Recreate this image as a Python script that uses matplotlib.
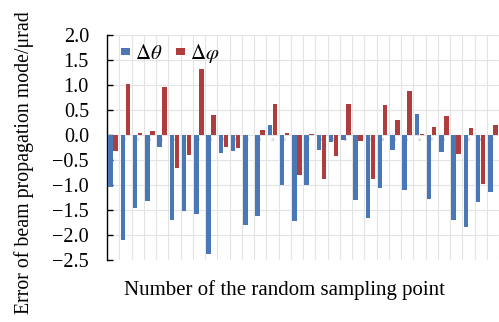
import matplotlib
matplotlib.use("Agg")
import matplotlib.pyplot as plt
from matplotlib.patches import Patch
import numpy as np

points = list(range(1, 33))
d_theta = [-1.03, -2.10, -1.45, -1.32, -0.23, -1.70, -1.52, -1.57, -2.37, -0.35,
           -0.32, -1.80, -1.62, 0.21, -0.99, -1.72, -1.00, -0.29, -0.13, -0.10,
           -1.29, -1.65, -1.06, -0.29, -1.09, 0.43, -1.28, -0.34, -1.69, -1.83,
           -1.33, -1.13]
d_phi = [-0.31, 1.03, 0.05, 0.09, 0.97, -0.66, -0.40, 1.33, 0.40, -0.23,
         -0.26, 0.01, 0.11, 0.63, 0.05, -0.79, 0.02, -0.87, -0.41, 0.62,
         -0.12, -0.87, 0.61, 0.31, 0.89, 0.02, 0.16, 0.38, -0.37, 0.15,
         -0.97, 0.20]
yticks = [2.0, 1.5, 1.0, 0.5, 0.0, -0.5, -1.0, -1.5, -2.0, -2.5]

plt.rcParams['font.family'] = ['Liberation Serif', 'DejaVu Serif']
plt.rcParams['mathtext.fontset'] = 'stix'

blue = '#4A77B6'
red = '#AE3E3D'

fig = plt.figure(figsize=(4.99, 3.22), dpi=100)
ax = fig.add_axes([107/499, 1 - 260/322, 1 - 107/499, 225/322])

x = np.array(points)
w = 0.36
ax.bar(x - 0.2, d_theta, width=w, color=blue, zorder=3)
ax.bar(x + 0.2, d_phi, width=w, color=red, zorder=3)

for i in points:
    ax.text(i, -0.1, str(i), fontsize=3, color='#999999', ha='center', va='center', zorder=2)

ax.set_xlim(0.5, 32.5)
ax.set_ylim(-2.5, 2.0)
ax.set_yticks(yticks)
ax.set_yticklabels([f"{v:.1f}".replace('-', '\u2212') for v in yticks], fontsize=14.5)
for b in np.arange(0.5, 33.0, 1.0):
    ax.axvline(b, color='#e3e3e3', lw=0.8, zorder=1)
for v in yticks:
    ax.axhline(v, color='#e3e3e3', lw=0.8, zorder=1)

ax.set_xticks([])
for s in ['top', 'right', 'bottom']:
    ax.spines[s].set_visible(False)
ax.spines['left'].set_color('black')
ax.spines['left'].set_linewidth(1.0)
ax.tick_params(axis='y', direction='in', length=4, width=1.0, pad=13)

fig.text(285/499, 1 - 295/322, 'Number of the random sampling point', fontsize=15,
         ha='center', va='baseline')
fig.text(24/499, 1 - 163/322, 'Error of beam propagation mode/\u03bcrad', fontsize=14.3,
         rotation=90, ha='center', va='center')

handles = [Patch(facecolor=blue, edgecolor='none'), Patch(facecolor=red, edgecolor='none')]
ax.legend(handles, [r'$\Delta\theta$', r'$\Delta\varphi$'], loc='upper left',
          bbox_to_anchor=(121/499, 1 - 42/322), bbox_transform=fig.transFigure,
          ncol=2, frameon=False, fontsize=15, borderpad=0, borderaxespad=0,
          handlelength=0.45, handleheight=0.2, handletextpad=0.22, columnspacing=0.65)

fig.savefig('out.png', dpi=100)
